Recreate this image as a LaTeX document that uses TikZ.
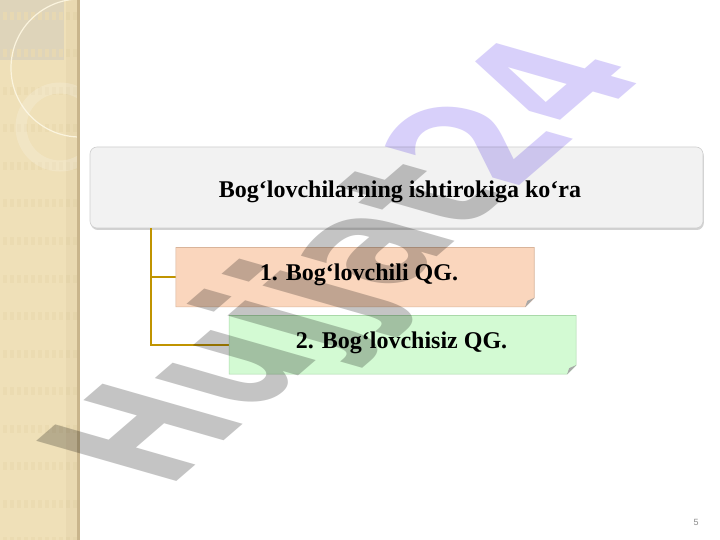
\documentclass[tikz,border=0pt]{standalone}
\usepackage{fontspec}
\setmainfont{Liberation Serif}
\newfontfamily\wmfont{DejaVu Sans}
\newfontfamily\pgfont{Liberation Sans}
\usetikzlibrary{shadows}
\definecolor{strip}{HTML}{EFE0B8}
\definecolor{stripedge}{HTML}{C9B58C}
\definecolor{topgray}{HTML}{DED4BA}
\definecolor{cellcol}{HTML}{EADAB0}
\definecolor{circcol}{HTML}{FBF4DE}
\definecolor{hdrfill}{HTML}{F2F2F2}
\definecolor{hdrborder}{HTML}{CFCFCF}
\definecolor{conncol}{HTML}{C09400}
\definecolor{peach}{HTML}{FAD6BD}
\definecolor{peachborder}{HTML}{D9B49A}
\definecolor{mint}{HTML}{D3FAD3}
\definecolor{mintborder}{HTML}{A9D9A9}
\definecolor{foldcol}{HTML}{A8A8A8}
\definecolor{wmgray}{HTML}{C4C4C4}
\definecolor{wmpurple}{HTML}{D8D0FA}
\definecolor{pgnum}{HTML}{8C8C8C}
\newcommand\foldedbox[3]{%
  \fill[#2] (#1.north west) -- (#1.north east) -- ([yshift=9pt]#1.south east)
     -- ([xshift=-9pt]#1.south east) -- (#1.south west) -- cycle;
  \draw[#3, line width=0.6pt] (#1.north west) -- (#1.north east) -- ([yshift=9pt]#1.south east)
     -- ([xshift=-9pt]#1.south east) -- (#1.south west) -- cycle;
  \fill[foldcol] ([yshift=9pt]#1.south east) -- ([xshift=-9pt]#1.south east)
     -- ([xshift=-7pt,yshift=6pt]#1.south east) -- cycle;
}
\begin{document}
\begin{tikzpicture}[x=1pt,y=-1pt,
  hdr/.style={draw=hdrborder, fill=hdrfill, rounded corners=7pt, minimum width=613pt,
    minimum height=81pt, inner sep=0pt, line width=0.6pt,
    drop shadow={opacity=0.35, shadow xshift=0.8pt, shadow yshift=-2pt}},
  lbl/.style={font=\bfseries\fontsize{24}{28}\selectfont, inner sep=0pt, anchor=base},
  conn/.style={draw=conncol, line width=1.6pt},
  boxone/.style={minimum width=358pt, minimum height=59pt, inner sep=0pt},
  boxtwo/.style={minimum width=346.7pt, minimum height=58.3pt, inner sep=0pt},
]
\useasboundingbox (0,0) rectangle (720,540);
\fill[white] (0,0) rectangle (720,540);
% left decorative strip
\fill[strip] (0,0) rectangle (77,540);
\fill[topgray] (0,0) rectangle (64,60);
\foreach \r in {0,...,14}{
  \foreach \c in {0,...,10}{
    \fill[cellcol, opacity=0.8] (3+7*\c,12+37.5*\r) rectangle (6.5+7*\c,20+37.5*\r);
  }
}
\fill[stripedge, opacity=0.15] (66,0) rectangle (77,540);
\begin{scope}
  \clip (0,0) rectangle (77,540);
  \draw[circcol, line width=1.2pt] (80,68) circle (69);
  \draw[white, opacity=0.18, line width=11pt] (60,127) circle (39);
\end{scope}
\fill[stripedge] (77,0) rectangle (80,540);
% header
\node[hdr] (header) at (396.5,187.5) {};
\node[lbl] (htext) at (400,197) {Bog‘lovchilarning ishtirokiga ko‘ra};
% connectors
\node[boxone] (b1) at (355,277.2) {};
\node[boxtwo] (b2) at (402.6,344.8) {};
\coordinate (j) at ([xshift=61pt]header.south west);
\draw[conn] (j) |- (b1.west);
\draw[conn] (j) |- (b2.west);
% boxes
\foldedbox{b1}{peach}{peachborder}
\foldedbox{b2}{mint}{mintborder}
\node[lbl] (t1) at (359,280) {1. Bog‘lovchili QG.};
\node[lbl] (t2) at (401.5,348.3) {2. Bog‘lovchisiz QG.};
% watermark
\begin{scope}[blend mode=multiply, shift={(410,280)}, cm={1.015,0.875,-1.923,0.551,(0,0)}]
  \node[transform shape, anchor=base, inner sep=0pt,
        font=\wmfont\bfseries\fontsize{100}{110}\selectfont] (wm) at (0,0)
        {\textcolor{wmgray}{Hujjat}\textcolor{wmpurple}{24}};
\end{scope}
% page number
\node[font=\pgfont\fontsize{9}{10}\selectfont, text=pgnum, inner sep=0pt] (pn) at (696,522) {5};
\end{tikzpicture}
\end{document}
